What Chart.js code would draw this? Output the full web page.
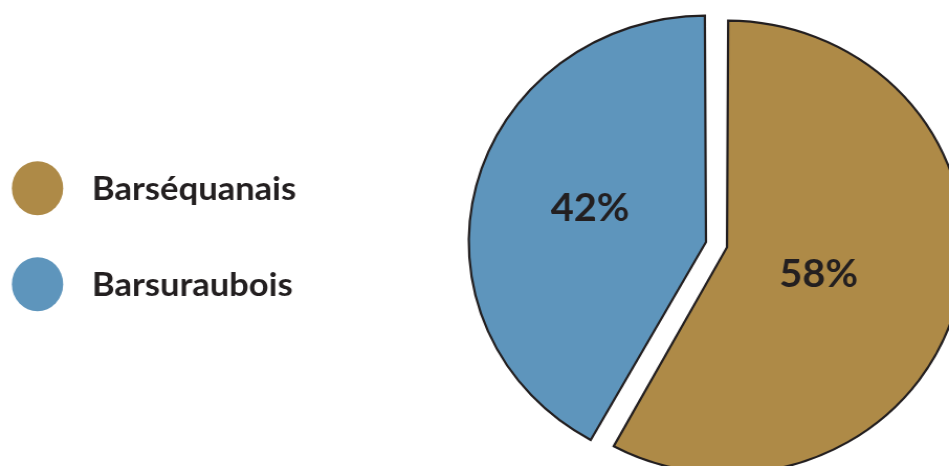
<!DOCTYPE html>
<html>
<head>
<meta charset="utf-8">
<script src="https://cdn.jsdelivr.net/npm/chart.js@4.4.1/dist/chart.umd.min.js"></script>
<style>
html, body { margin:0; padding:0; background:#ffffff; overflow:hidden; width:949px; height:466px; }
#wrap { position:absolute; left:0; top:0; width:906px; height:466px; transform:scaleX(1.04746); transform-origin:0 0; }
canvas { display:block; }
</style>
</head>
<body>
<div id="wrap"><canvas id="c" width="906" height="466"></canvas></div>
<script>
// ---- data ----
const categories = ['Barséquanais', 'Barsuraubois'];
const shares = [58, 42];
const shareLabels = ['58%', '42%'];

// ---- style ----
const sliceColors = ['#AE8A47', '#5E95BC'];
const sliceOffsets = [28.3, 54.5];
const TEXT = '#231F20';
const labelAngleShift = [2.3, 2.8];   // degrees
const labelRadiusFrac = [0.449, 0.591];

const sliceLabelPlugin = {
  id: 'sliceLabels',
  afterDatasetsDraw(chart) {
    const ctx = chart.ctx;
    const meta = chart.getDatasetMeta(0);
    const size = 38;
    ctx.save();
    ctx.font = 'bold ' + size + 'px Lato';
    ctx.fillStyle = TEXT;
    ctx.textAlign = 'center';
    ctx.textBaseline = 'alphabetic';
    meta.data.forEach((arc, i) => {
      const p = arc.getProps(['x', 'y', 'startAngle', 'endAngle', 'outerRadius'], true);
      const a = (p.startAngle + p.endAngle) / 2 + labelAngleShift[i] * Math.PI / 180;
      const r = p.outerRadius * labelRadiusFrac[i];
      const x = p.x + Math.cos(a) * r;
      const y = p.y + Math.sin(a) * r;
      ctx.fillText(shareLabels[i], x, y + 0.36 * size);
    });
    ctx.restore();
  }
};

const legendPlugin = {
  id: 'sideLegend',
  afterDraw(chart) {
    const ctx = chart.ctx;
    const ds = chart.data.datasets[0];
    const x0 = 35.8, y0 = 188.2, step = 96, rx = 24.5, ry = 27;
    ctx.save();
    chart.data.labels.forEach((lab, i) => {
      const cy = y0 + i * step;
      ctx.beginPath();
      ctx.ellipse(x0, cy, rx, ry, 0, 0, Math.PI * 2);
      ctx.fillStyle = ds.backgroundColor[i];
      ctx.fill();
      ctx.font = 'bold 33px Lato';
      ctx.fillStyle = TEXT;
      ctx.textAlign = 'left';
      ctx.textBaseline = 'alphabetic';
      ctx.fillText(lab, 87.8, cy + 11.5);
    });
    ctx.restore();
  }
};

function build() {
  new Chart(document.getElementById('c'), {
    type: 'pie',
    data: {
      labels: categories,
      datasets: [{
        data: shares,
        backgroundColor: sliceColors,
        borderColor: TEXT,
        borderWidth: 2.2,
        borderJoinStyle: 'miter',
        offset: sliceOffsets,
        hoverOffset: 0,
        radius: 219.4,
        clip: false
      }]
    },
    options: {
      responsive: false,
      animation: false,
      devicePixelRatio: 1,
      events: [],
      layout: { padding: { left: 468.4, right: 0, top: 24.8, bottom: 0 } },
      plugins: { legend: { display: false }, tooltip: { enabled: false } }
    },
    plugins: [sliceLabelPlugin, legendPlugin]
  });
}
if (document.fonts && document.fonts.load) {
  Promise.all([document.fonts.load('bold 33px Lato'), document.fonts.load('bold 38px Lato')]).then(build, build);
} else { build(); }
</script>
</body>
</html>
